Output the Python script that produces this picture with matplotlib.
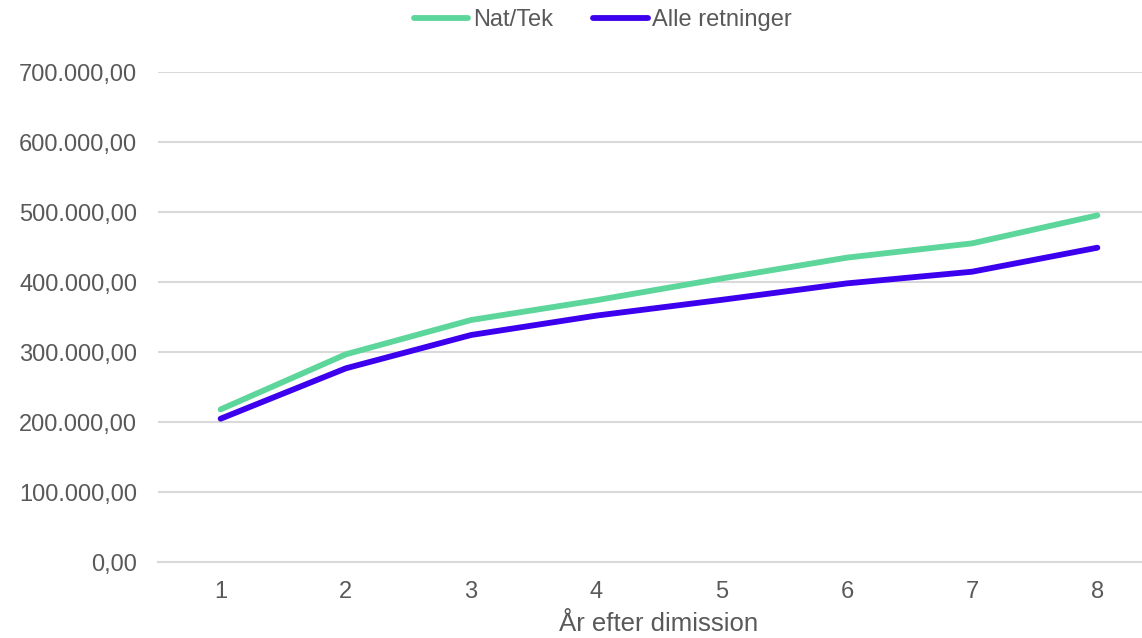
import matplotlib
matplotlib.use("Agg")
import matplotlib.pyplot as plt
from matplotlib.ticker import FuncFormatter

years = [1, 2, 3, 4, 5, 6, 7, 8]
nat_tek = [218000, 296700, 345700, 374000, 405000, 434800, 455200, 495200]
alle = [204700, 276700, 324300, 352000, 374500, 398000, 414700, 449000]
series_names = ["Nat/Tek", "Alle retninger"]
colors = ["#5CD69A", "#3D00EE"]

plt.rcParams['font.family'] = ['Liberation Sans', 'DejaVu Sans']
fig = plt.figure(figsize=(11.42, 6.38), dpi=100)
ax = fig.add_axes([158/1142, 1-562/638, (1160-158)/1142, (562-72)/638])

ax.plot(years, nat_tek, color=colors[0], lw=4.2, label=series_names[0], solid_capstyle='round')
ax.plot(years, alle, color=colors[1], lw=4.2, label=series_names[1], solid_capstyle='round')

ax.set_xlim(0.5, 8.5)
ax.set_ylim(0, 700000)
ax.set_yticks(range(0, 700001, 100000))
ax.set_xticks(years)

def fmt(v, pos):
    s = f"{v:,.2f}"
    return s.replace(",", "X").replace(".", ",").replace("X", ".")
ax.yaxis.set_major_formatter(FuncFormatter(fmt))

ax.grid(axis='y', color='#D9D9D9', lw=1.5)
ax.set_axisbelow(True)
for s in ax.spines.values():
    s.set_visible(False)
ax.spines['bottom'].set_visible(True)
ax.spines['bottom'].set_color('#D9D9D9')
ax.spines['bottom'].set_linewidth(1.5)
ax.tick_params(axis='both', length=0, labelsize=17, labelcolor='#595959')
ax.tick_params(axis='y', pad=15)
ax.tick_params(axis='x', pad=14)
ax.set_xlabel("År efter dimission", fontsize=18.5, color='#595959', labelpad=6)

leg = fig.legend(loc='center', bbox_to_anchor=(603/1142, 1-20/638), ncol=2, frameon=False,
                 fontsize=17, labelcolor='#595959', handlelength=2.3, handletextpad=0.2,
                 columnspacing=1.7)
fig.savefig("out.png", dpi=100)
